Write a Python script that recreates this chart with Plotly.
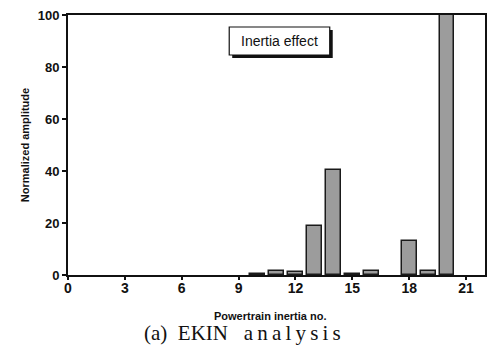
import plotly.graph_objects as go

inertia_no = [10, 11, 12, 13, 14, 15, 16, 18, 19, 20]
amplitude = [0.5, 1.5, 1.3, 19, 40.5, 0.5, 1.5, 13, 1.5, 100]
x_ticks = [0, 3, 6, 9, 12, 15, 18, 21]
y_ticks = [0, 20, 40, 60, 80, 100]

W, H = 494, 349
ml, mr, mt, mb = 68, 7, 15, 74
PW, PH = W - ml - mr, H - mt - mb

def px(x):
    return (x - ml) / PW

def py(y):
    return 1 - (y - mt) / PH

fig = go.Figure()
fig.add_trace(go.Bar(
    x=inertia_no, y=amplitude, width=0.78,
    marker=dict(color="#9c9c9c", line=dict(color="#1a1a1a", width=1.5)),
    showlegend=False,
))

fig.update_layout(
    width=W, height=H,
    margin=dict(l=ml, r=mr, t=mt, b=mb),
    paper_bgcolor="white", plot_bgcolor="white",
    font=dict(family="Liberation Sans, Arial, sans-serif", color="#111"),
    bargap=0,
)
fig.update_xaxes(
    range=[0, 22], tickvals=x_ticks, ticktext=[str(v) for v in x_ticks],
    ticks="outside", ticklen=3, tickwidth=1.5, tickcolor="#111",
    showline=True, linecolor="#111", linewidth=2, mirror=True,
    showgrid=False, zeroline=False, ticklabelstandoff=-4,
    tickfont=dict(size=14, weight="bold"),
)
fig.update_yaxes(
    range=[0, 100], tickvals=y_ticks,
    ticks="outside", ticklen=4, tickwidth=1.5, tickcolor="#111",
    showline=True, linecolor="#111", linewidth=2, mirror=True,
    showgrid=False, zeroline=False,
    tickfont=dict(size=13, weight="bold"),
    title=dict(text="Normalized amplitude", font=dict(size=11, weight="bold"), standoff=6),
)

# Legend-like box with shadow
fig.add_shape(type="rect", xref="paper", yref="paper",
              x0=px(233), x1=px(334), y0=py(58), y1=py(30),
              fillcolor="#111", line=dict(width=0), layer="above")
fig.add_shape(type="rect", xref="paper", yref="paper",
              x0=px(230), x1=px(331), y0=py(55), y1=py(27),
              fillcolor="white", line=dict(color="#111", width=1.2), layer="above")
fig.add_annotation(xref="paper", yref="paper", x=px(281), y=py(41),
                   xanchor="center", yanchor="middle",
                   text="Inertia effect", showarrow=False,
                   font=dict(size=14, color="#111"))

fig.add_annotation(xref="paper", yref="paper", x=px(270.5), y=py(316),
                   xanchor="center", yanchor="middle",
                   text="Powertrain inertia no.", showarrow=False,
                   font=dict(size=11, weight="bold", color="#111"))

hs = "\u2009"
title_text = "(a)\u00a0\u00a0EKIN\u00a0\u00a0\u00a0" + hs.join("analysis")
fig.add_annotation(xref="paper", yref="paper", x=px(243), y=py(333),
                   xanchor="center", yanchor="middle",
                   text=title_text, showarrow=False,
                   font=dict(size=21, family="Liberation Serif, Times New Roman, serif", color="#111"))

fig.write_html("out.html")
